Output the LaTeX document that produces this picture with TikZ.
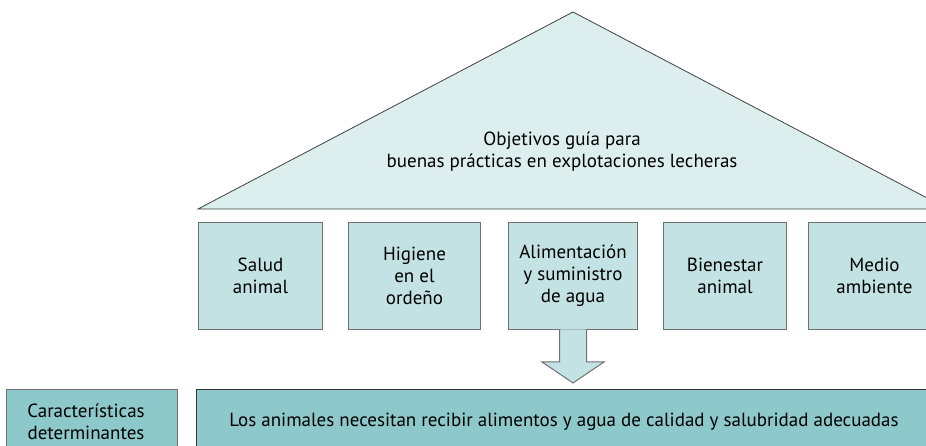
\documentclass[tikz,border=0pt]{standalone}
\usepackage{fontspec}
\setmainfont{PT Sans}
\definecolor{techo}{HTML}{DDEEEE}
\definecolor{pilarcol}{HTML}{C3E2E3}
\definecolor{basecol}{HTML}{8DC8CA}
\definecolor{borde}{HTML}{707070}
\tikzset{
  pilar/.style={draw=borde, line width=1pt, fill=pilarcol, align=center, anchor=north west, inner sep=0pt, minimum height=107},
  basebox/.style={draw=borde, line width=1pt, fill=basecol, align=center, anchor=north west, inner sep=0pt, minimum height=64},
}
\begin{document}
\begin{tikzpicture}[x=1pt, y=1pt, line join=miter, font=\fontsize{19}{22}\selectfont]
	\useasboundingbox (0,0) rectangle (926,446);
	\clip (0,0) rectangle (926,446);
	% techo
	\path (573,434) coordinate (A) (198,237) coordinate (L) (948,237) coordinate (R);
	\draw[draw=black!75, line width=0.8pt, fill=techo] (L) -- (A) -- (R) -- cycle;
	\node[align=center] (objetivos) at (562,294) {Objetivos guía para\\buenas prácticas en explotaciones lecheras};
	% pilares
	\foreach \n/\x/\w/\t in {salud/198/124/{Salud\\animal}, higiene/348/132/{Higiene\\en el\\ordeño}, agua/508/129/{Alimentación\\y suministro\\de agua}, bienestar/663/123/{Bienestar\\animal}, medio/808/132/{Medio\\ambiente}}{
	\node[pilar, minimum width=\w] (\n) at (\x,224) {\t};
	}
	% flecha
	\draw[draw=borde, line width=1pt, fill=pilarcol] ([xshift=-13.5pt, yshift=0.6pt]agua.south) -- ++(0,-32.6) -- ++(-17.5,0) -- ++(31,-21) -- ++(31,21) -- ++(-17.5,0) -- ++(0,32.6);
	% base
	\node[basebox, minimum width=171] (caract) at (6,57) {\hspace*{-12pt}Características\\\hspace*{-12pt}determinantes};
	\node[basebox, draw=black!80, minimum width=735] (animales) at (196,57) {Los animales necesitan recibir alimentos y agua de calidad y salubridad adecuadas};
\end{tikzpicture}
\end{document}
